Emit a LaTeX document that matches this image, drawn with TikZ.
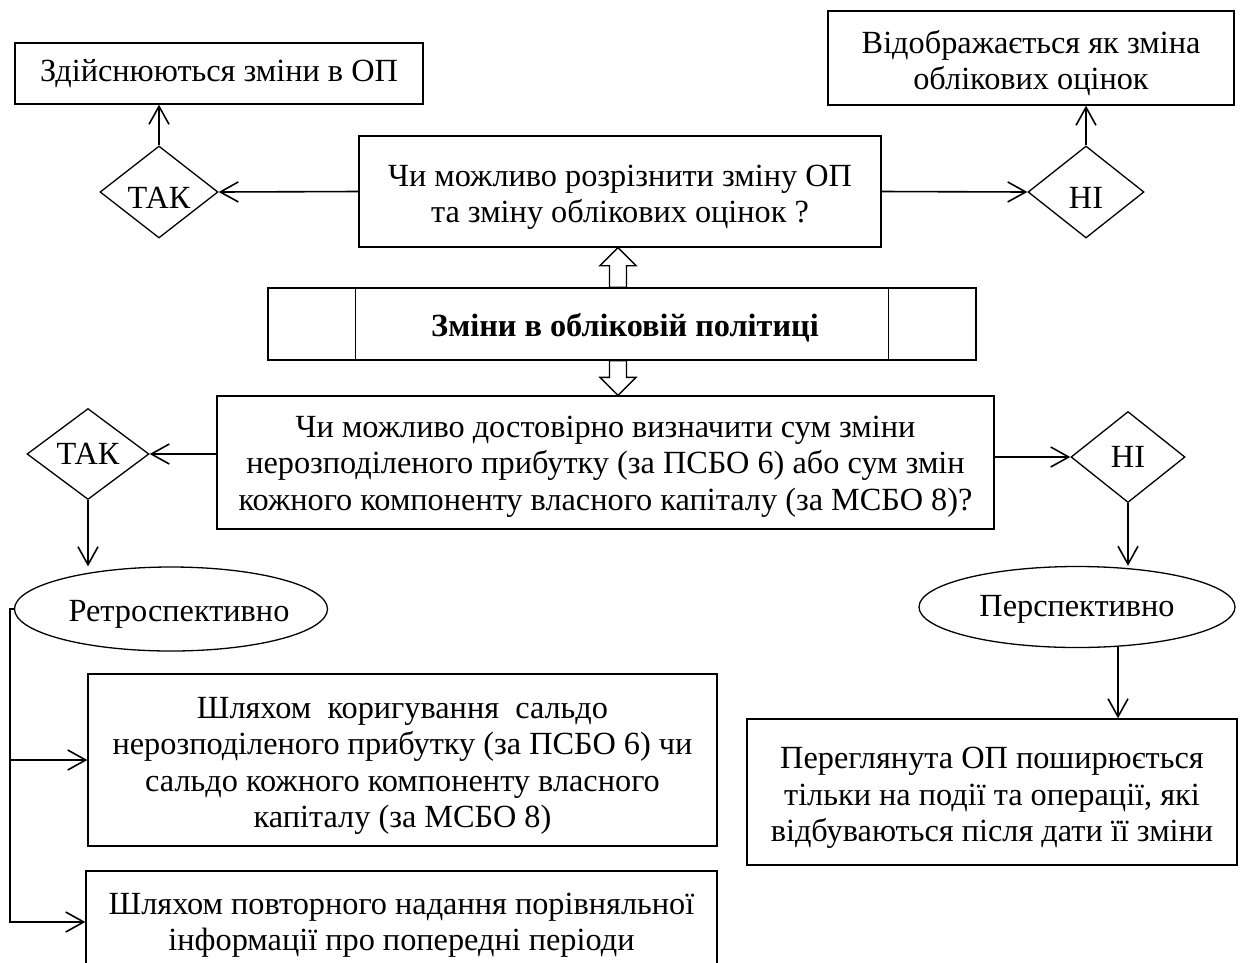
\documentclass[tikz,border=0pt]{standalone}
\usepackage{fontspec}
\setmainfont{Liberation Serif}
\usetikzlibrary{arrows.meta,shapes.geometric,calc}

\begin{document}
\begin{tikzpicture}[x=1pt,y=-1pt,
  font=\fontsize{32.3}{36.5}\selectfont,
  box/.style={draw,line width=1.3pt,inner sep=0pt},
  txt/.style={align=center,inner sep=0pt},
  dec/.style={draw,diamond,line width=1.3pt,inner sep=0pt,aspect=1.28},
  ov/.style={draw,ellipse,line width=1.3pt,inner sep=0pt},
  conn/.style={line width=1.6pt,-{Straight Barb[length=18pt,width=20pt,line width=1.6pt]}},
  blk/.style={draw,line width=1.3pt,fill=white,line join=miter},
]
\useasboundingbox (0,0) rectangle (1241,962);
\clip (0,0) rectangle (1241,962);

% top row
\node[box,minimum width=408pt,minimum height=61pt] (A) at (219,73.5) {};
\node[txt] (At) at (A.center) {Здійснюються зміни в ОП};
\node[box,minimum width=406pt,minimum height=94pt] (B) at (1031,58) {};
\node[txt] (Bt) at ($(B.center)+(0,5)$) {Відображається як зміна\\облікових оцінок};
\node[box,minimum width=522pt,minimum height=111pt] (Q1) at (620,191.5) {};
\node[txt] (Q1t) at ($(Q1.center)+(0,6)$) {Чи можливо розрізнити зміну ОП\\та зміну облікових оцінок ?};
\node[dec,minimum width=118pt,minimum height=92pt] (T1) at (159,192) {};
\node[txt] (T1t) at ($(T1.center)+(0,6)$) {ТАК};
\node[dec,minimum width=116pt,minimum height=92pt] (N1) at (1086,192) {};
\node[txt] (N1t) at ($(N1.center)+(0,6)$) {НІ};

% main bar
\node[box,minimum width=708pt,minimum height=72pt] (bar) at (622,324) {};
\node[txt] (bart) at ($(bar.center)+(3,4)$) {\textbf{Зміни в обліковій політиці}};
\draw[line width=1.3pt] ($(bar.north west)+(88,0)$) -- ($(bar.south west)+(88,0)$);
\draw[line width=1.3pt] ($(bar.north east)+(-88,0)$) -- ($(bar.south east)+(-88,0)$);

% second question
\node[box,minimum width=777pt,minimum height=133pt] (Q2) at (605.5,462.5) {};
\node[txt] (Q2t) at ($(Q2.center)+(0,4)$) {Чи можливо достовірно визначити сум зміни\\нерозподіленого прибутку (за ПСБО 6) або сум змін\\кожного компоненту власного капіталу (за МСБО 8)?};
\node[dec,minimum width=122pt,minimum height=91pt] (T2) at (88,454) {ТАК};
\node[dec,minimum width=114pt,minimum height=91pt] (N2) at (1128,457) {НІ};

\node[ov,minimum width=313pt,minimum height=84pt] (E1) at (171,609) {};
\node[txt] (E1t) at ($(E1.center)+(8,5)$) {Ретроспективно};
\node[ov,minimum width=316pt,minimum height=81pt] (E2) at (1077,607) {};
\node[txt] (E2t) at ($(E2.center)+(0,2)$) {Перспективно};

\node[box,minimum width=629pt,minimum height=172pt] (C) at (402.5,760) {};
\node[txt] (Ct) at ($(C.center)+(0,6)$) {Шляхом\ \ коригування\ \ сальдо\\нерозподіленого прибутку (за ПСБО 6) чи\\сальдо кожного компоненту власного\\капіталу (за МСБО 8)};
\node[box,minimum width=631pt,minimum height=102pt] (D) at (401.5,922) {};
\node[txt] (Dt) at ($(D.center)+(0,3)$) {Шляхом повторного надання порівняльної\\інформації про попередні періоди};
\node[box,minimum width=490pt,minimum height=146pt] (E) at (992,792) {};
\node[txt] (Et) at ($(E.center)+(0,6)$) {Переглянута ОП поширюється\\тільки на події та операції, які\\відбуваються після дати її зміни};

% connectors
\draw[conn] (Q1.west) -- (T1.east);
\draw[conn] (Q1.east) -- (N1.west);
\draw[conn] (T1.north) -- (T1.north |- A.south);
\draw[conn] (N1.north) -- (N1.north |- B.south);

\draw[conn] (Q2.west |- T2.east) -- (T2.east);
\draw[conn] (Q2.east |- N2.west) -- (N2.west);
\draw[conn] (T2.south) -- (T2.south |- E1.north);
\draw[conn] (N2.south) -- (N2.south |- E2.north);

\coordinate (s) at ($(E1.west)+(-4,0)$);
\draw[conn] (E1.west) -- (s) |- (D.west);
\draw[conn] (s |- C.west) -- (C.west);

\coordinate (p) at ($(E2.south)+(41,-1)$);
\draw[conn] (p) -- (p |- E.north);

% hollow block arrows
\coordinate (ut) at ($(Q1.south)+(-2,0)$);
\draw[blk] (ut) -- ++(18,18) -- ++(-9.5,0) -- ($(ut |- bar.north)+(8.5,0)$) -- ($(ut |- bar.north)+(-8.5,0)$) -- ($(ut)+(-8.5,18)$) -- ($(ut)+(-18,18)$) -- cycle;
\coordinate (dt) at (Q2.north -| ut);
\draw[blk] (dt) -- ++(18,-18) -- ++(-9.5,0) -- ($(dt |- bar.south)+(8.5,0)$) -- ($(dt |- bar.south)+(-8.5,0)$) -- ($(dt)+(-8.5,-18)$) -- ($(dt)+(-18,-18)$) -- cycle;
\end{tikzpicture}
\end{document}
